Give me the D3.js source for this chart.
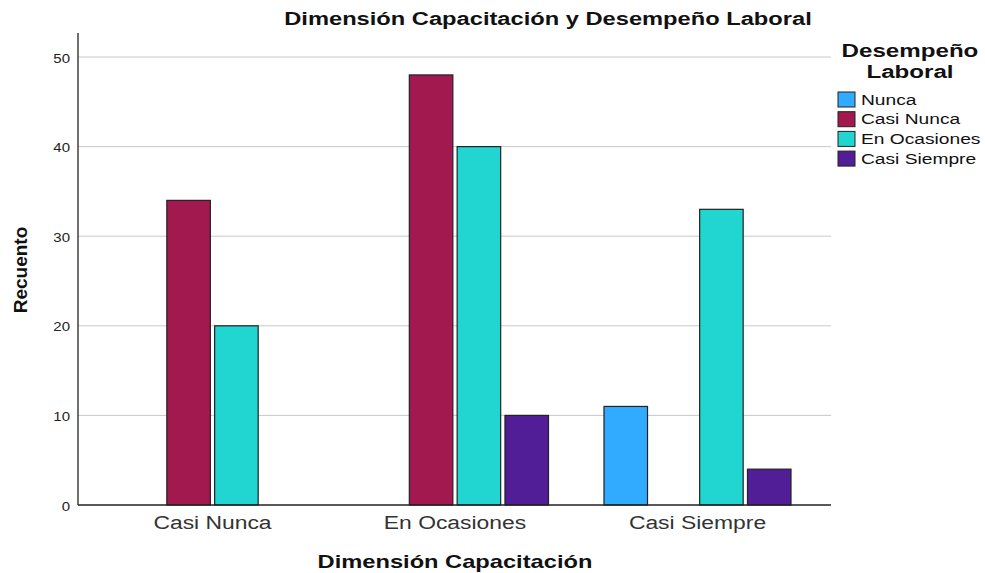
<!DOCTYPE html>
<html><head><meta charset="utf-8">
<script src="https://cdn.jsdelivr.net/npm/d3@7"></script>
<style>body{margin:0;background:#fff}svg{display:block}text{font-family:"Liberation Sans",Arial,sans-serif}</style>
</head><body>
<svg id="c" width="985" height="573"></svg>
<script>
const categories = ["Casi Nunca", "En Ocasiones", "Casi Siempre"];
const seriesNames = ["Nunca", "Casi Nunca", "En Ocasiones", "Casi Siempre"];
const colors = ["#31abff", "#a1194e", "#21d5d1", "#521e97"];
const valNunca = [0, 0, 11];
const valCasiNunca = [34, 48, 0];
const valEnOcasiones = [20, 40, 33];
const valCasiSiempre = [0, 10, 4];
const yTicks = [0, 10, 20, 30, 40, 50];
const series = [valNunca, valCasiNunca, valEnOcasiones, valCasiSiempre];

const svg = d3.select("#c");
const x0 = 78, x1 = 831, yTop = 33, yBase = 505;
const y = d3.scaleLinear().domain([0, 52.68]).range([yBase, yTop]);
const xb = d3.scaleBand().domain(categories).range([91.25, 818.75]).padding(0);
const xs = d3.scaleBand().domain(seriesNames).range([27.75, 214.75]).paddingInner(0.09);

// grid
svg.append("g").selectAll("line").data(yTicks.filter(d => d > 0)).join("line")
  .attr("x1", x0).attr("x2", x1).attr("y1", d => y(d)).attr("y2", d => y(d))
  .attr("stroke", "#c8c8c8").attr("stroke-width", 1);

// bars
categories.forEach((c, ci) => {
  seriesNames.forEach((s, si) => {
    const v = series[si][ci];
    if (!v) return;
    svg.append("rect")
      .attr("x", xb(c) + xs(s)).attr("width", xs.bandwidth())
      .attr("y", y(v)).attr("height", y(0) - y(v))
      .attr("fill", colors[si]).attr("stroke", "#222").attr("stroke-width", 1.2);
  });
});

function widen(sel, k) {
  sel.each(function () {
    const t = d3.select(this);
    const w = this.getComputedTextLength();
    t.attr("textLength", w * k).attr("lengthAdjust", "spacingAndGlyphs");
  });
}

// axes
const yAxis = d3.axisLeft(y).tickValues(yTicks).tickSize(0).tickPadding(8);
const gy = svg.append("g").attr("transform", `translate(${x0},0)`).call(yAxis);
gy.select(".domain").remove();
gy.selectAll("text").attr("font-size", 12.5).attr("fill", "#222").attr("dy", "0.4em").call(widen, 1.2);
svg.append("line").attr("x1", x0).attr("x2", x0).attr("y1", yTop).attr("y2", yBase).attr("stroke", "#222").attr("stroke-width", 1.3);
svg.append("line").attr("x1", x0).attr("x2", x1).attr("y1", yBase).attr("y2", yBase).attr("stroke", "#222").attr("stroke-width", 1.3);

const xAxis = d3.axisBottom(xb).tickSize(0).tickPadding(10);
const gx = svg.append("g").attr("transform", `translate(0,${yBase})`).call(xAxis);
gx.select(".domain").remove();
gx.selectAll("text").attr("font-size", 18).attr("fill", "#333").attr("dy", "0.8em").call(widen, 1.27);

// titles
svg.append("text").attr("x", 548).attr("y", 25).attr("text-anchor", "middle")
  .attr("font-size", 18).attr("font-weight", "bold").attr("fill", "#111")
  .text("Dimensión Capacitación y Desempeño Laboral").call(widen, 1.315);
svg.append("text").attr("x", 455).attr("y", 568).attr("text-anchor", "middle")
  .attr("font-size", 19).attr("font-weight", "bold").attr("fill", "#111")
  .text("Dimensión Capacitación").call(widen, 1.245);
svg.append("text").attr("transform", "translate(27,270) rotate(-90)").attr("text-anchor", "middle")
  .attr("font-size", 19).attr("font-weight", "bold").attr("fill", "#111")
  .attr("font-family", "'Liberation Sans Narrow','DejaVu Sans Condensed',Arial,sans-serif")
  .text("Recuento");

// legend
const lg = svg.append("g");
lg.append("text").attr("x", 910).attr("y", 57).attr("text-anchor", "middle")
  .attr("font-size", 18).attr("font-weight", "bold").attr("fill", "#111").text("Desempeño").call(widen, 1.34);
lg.append("text").attr("x", 910).attr("y", 78).attr("text-anchor", "middle")
  .attr("font-size", 18).attr("font-weight", "bold").attr("fill", "#111").text("Laboral").call(widen, 1.34);
seriesNames.forEach((s, i) => {
  const cy = 99.5 + i * 19.7;
  lg.append("rect").attr("x", 838).attr("y", cy - 7.5).attr("width", 17).attr("height", 15)
    .attr("fill", colors[i]).attr("stroke", "#222").attr("stroke-width", 1);
  lg.append("text").attr("x", 861).attr("y", cy + 5).attr("font-size", 14).attr("fill", "#111").text(s).call(widen, 1.37);
});
</script>
</body></html>
